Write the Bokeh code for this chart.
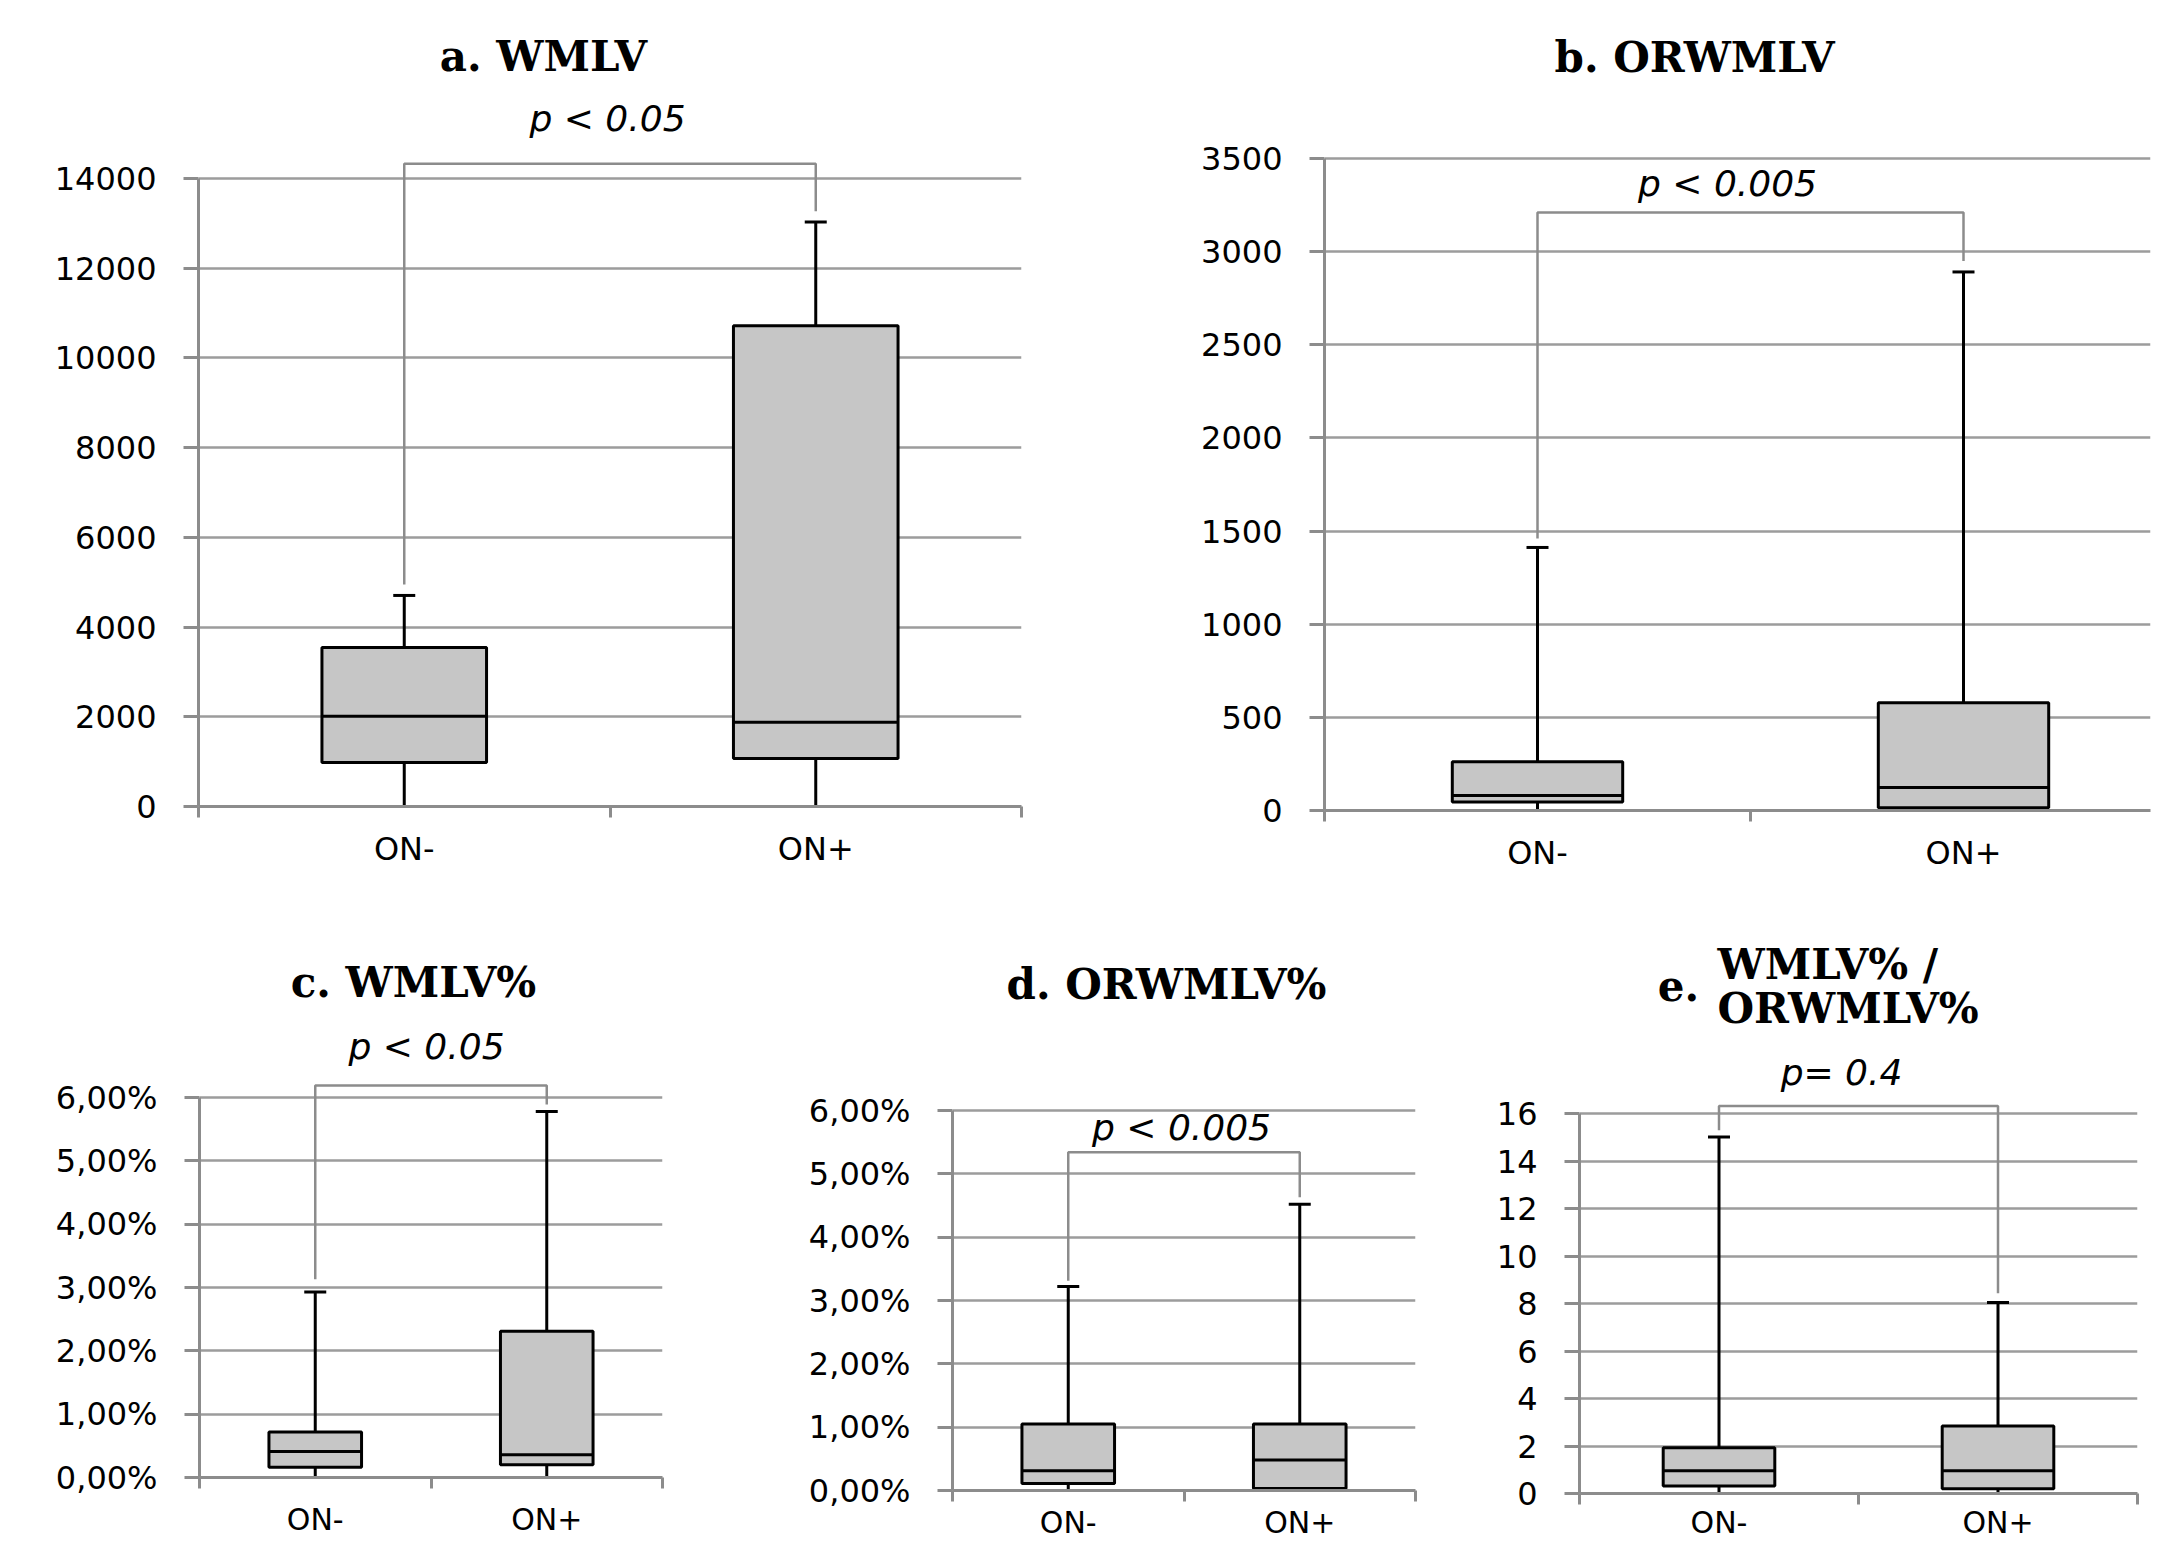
import numpy as np
from bokeh.plotting import figure
from bokeh.layouts import column, row
from bokeh.models import FixedTicker, Range1d
from bokeh.core.properties import value
from bokeh.embed import file_html
from bokeh.resources import INLINE

# ---------------- data ----------------
CATEGORIES = ["ON-", "ON+"]

# a. WMLV
A_TITLE = "a. WMLV"
A_LOW = [0, 0]
A_Q1 = [980, 1070]
A_MEDIAN = [2010, 1880]
A_Q3 = [3545, 10720]
A_HIGH = [4705, 13030]
A_TICKS = [0, 2000, 4000, 6000, 8000, 10000, 12000, 14000]
A_TICK_LABELS = ["0", "2000", "4000", "6000", "8000", "10000", "12000", "14000"]
A_P = "p < 0.05"
A_BRACKET = [4950, 14330, 13270]   # left leg end, bar level, right leg end

# b. ORWMLV
B_TITLE = "b. ORWMLV"
B_LOW = [5, 0]
B_Q1 = [45, 15]
B_MEDIAN = [81, 124]
B_Q3 = [262, 579]
B_HIGH = [1412, 2891]
B_TICKS = [0, 500, 1000, 1500, 2000, 2500, 3000, 3500]
B_TICK_LABELS = ["0", "500", "1000", "1500", "2000", "2500", "3000", "3500"]
B_P = "p < 0.005"
B_BRACKET = [1460, 3210, 2950]

# c. WMLV%
C_TITLE = "c. WMLV%"
C_LOW = [0, 0]
C_Q1 = [0.16, 0.20]
C_MEDIAN = [0.41, 0.36]
C_Q3 = [0.72, 2.31]
C_HIGH = [2.93, 5.78]
C_TICKS = [0, 1, 2, 3, 4, 5, 6]
C_TICK_LABELS = ["0,00%", "1,00%", "2,00%", "3,00%", "4,00%", "5,00%", "6,00%"]
C_P = "p < 0.05"
C_BRACKET = [3.13, 6.19, 5.89]

# d. ORWMLV%
D_TITLE = "d. ORWMLV%"
D_LOW = [0.02, 0]
D_Q1 = [0.11, 0.03]
D_MEDIAN = [0.31, 0.48]
D_Q3 = [1.05, 1.05]
D_HIGH = [3.22, 4.52]
D_TICKS = [0, 1, 2, 3, 4, 5, 6]
D_TICK_LABELS = ["0,00%", "1,00%", "2,00%", "3,00%", "4,00%", "5,00%", "6,00%"]
D_P = "p < 0.005"
D_BRACKET = [3.31, 5.34, 4.63]

# e. WMLV% / ORWMLV%
E_TITLE_LETTER = "e."
E_TITLE_LINES = ["WMLV% /", "ORWMLV%"]
E_LOW = [0.05, 0.05]
E_Q1 = [0.32, 0.20]
E_MEDIAN = [0.96, 0.96]
E_Q3 = [1.93, 2.84]
E_HIGH = [15.01, 8.04]
E_TICKS = [0, 2, 4, 6, 8, 10, 12, 14, 16]
E_TICK_LABELS = ["0", "2", "4", "6", "8", "10", "12", "14", "16"]
E_P = "p= 0.4"
E_BRACKET = [15.3, 16.32, 8.43]

# ---------------- style ----------------
AXIS_GRAY = "#8c8c8c"
GRID_GRAY = "#9c9c9c"
BRACKET_GRAY = "#8c8c8c"
BOX_FILL = "#c6c6c6"
TICK_FONT = "DejaVu Sans"
TITLE_FONT = "DejaVu Serif"
BOX_WIDTH = 0.4


def make_panel(layout, low, q1, med, q3, high, ticks, tick_labels, bracket, p_text, titles,
               xlab_standoff, xlab_size):
    fx0, fy0, fw, fh = layout["fig"]          # page pixels of the figure box
    fl, cat_px, fr = layout["frame_x"]         # frame left, px per category, frame right
    zero_px, top_px = layout["frame_y"]        # page y of value 0 and of top tick
    top_tick = ticks[-1]
    ppu = (zero_px - top_px) / top_tick        # pixels per y unit
    x_end = (fr - fl) / cat_px
    y_end = (zero_px - fy0) / ppu

    def X(sx):
        return (sx - fl) / cat_px

    def Y(sy):
        return (zero_px - sy) / ppu

    p = figure(width=fw, height=fh, x_range=Range1d(0, x_end), y_range=Range1d(0, y_end),
               output_backend="svg", toolbar_location=None, title=None,
               min_border_left=int(round(fl - fx0)), min_border_right=int(round(fx0 + fw - fr)),
               min_border_top=0, min_border_bottom=int(round(fy0 + fh - zero_px)))
    p.outline_line_color = None
    p.background_fill_color = "white"
    p.border_fill_color = "white"

    # y axis
    yt = FixedTicker(ticks=ticks)
    p.yaxis.ticker = yt
    p.ygrid.ticker = yt
    p.yaxis.major_label_overrides = {t: lab for t, lab in zip(ticks, tick_labels)}
    p.yaxis.bounds = (0, top_tick)
    p.yaxis.axis_line_color = AXIS_GRAY
    p.yaxis.axis_line_width = 3
    p.yaxis.major_tick_line_color = AXIS_GRAY
    p.yaxis.major_tick_line_width = 3
    p.yaxis.major_tick_out = 15
    p.yaxis.major_tick_in = 0
    p.yaxis.minor_tick_line_color = None
    p.yaxis.major_label_standoff = 27
    p.yaxis.major_label_text_font = TICK_FONT
    p.yaxis.major_label_text_font_size = "32px"
    p.yaxis.major_label_text_color = "black"
    p.ygrid.grid_line_color = GRID_GRAY
    p.ygrid.grid_line_width = 2.5
    p.xgrid.visible = False

    # x axis
    xs = np.arange(len(CATEGORIES)) + 0.5
    xt = FixedTicker(ticks=list(xs), minor_ticks=list(range(len(CATEGORIES) + 1)))
    p.xaxis.ticker = xt
    p.xaxis.major_label_overrides = {float(x): c for x, c in zip(xs, CATEGORIES)}
    p.xaxis.axis_line_color = AXIS_GRAY
    p.xaxis.axis_line_width = 3
    p.xaxis.major_tick_line_color = None
    p.xaxis.major_tick_out = 0
    p.xaxis.major_tick_in = 0
    p.xaxis.minor_tick_line_color = AXIS_GRAY
    p.xaxis.minor_tick_line_width = 3
    p.xaxis.minor_tick_out = 11
    p.xaxis.minor_tick_in = 0
    p.xaxis.major_label_standoff = xlab_standoff
    p.xaxis.major_label_text_font = TICK_FONT
    p.xaxis.major_label_text_font_size = xlab_size
    p.xaxis.major_label_text_color = "black"

    # significance bracket
    p.line(x=[xs[0], xs[0], xs[1], xs[1]], y=[bracket[0], bracket[1], bracket[1], bracket[2]],
           line_color=BRACKET_GRAY, line_width=2.5)

    # whiskers
    p.segment(x0=xs, y0=q3, x1=xs, y1=high, line_color="black", line_width=3)
    p.segment(x0=xs, y0=low, x1=xs, y1=q1, line_color="black", line_width=3)
    # boxes
    p.vbar(x=xs, width=BOX_WIDTH, bottom=q1, top=q3, fill_color=BOX_FILL,
           line_color="black", line_width=3)
    p.segment(x0=xs - BOX_WIDTH / 2, y0=med, x1=xs + BOX_WIDTH / 2, y1=med,
              line_color="black", line_width=3)
    p.scatter(x=xs, y=high, marker="dash", size=22, line_color="black", line_width=3)

    # p value
    psx, psy = layout["p_pos"]
    p.text(x=[X(psx)], y=[Y(psy)], text=[p_text], text_font=value(TICK_FONT),
           text_font_style="italic", text_font_size="36px", text_align="center",
           text_baseline="middle", text_color="black")

    # title(s)
    for txt, sx, sy, align in titles:
        p.text(x=[X(sx)], y=[Y(sy)], text=[txt], text_font=value(TITLE_FONT),
               text_font_style="bold", text_font_size="42px", text_align=align,
               text_baseline="middle", text_color="black")
    return p


LAYOUT_A = dict(fig=(0, 0, 1092, 898), frame_x=(198, 411.5, 1021), frame_y=(806, 178), p_pos=(607, 118))
LAYOUT_B = dict(fig=(1092, 0, 1090, 898), frame_x=(1324, 426, 2150), frame_y=(810, 158), p_pos=(1727, 183))
LAYOUT_C = dict(fig=(0, 898, 720, 644), frame_x=(199, 231.5, 662), frame_y=(1477, 1097), p_pos=(426, 1046))
LAYOUT_D = dict(fig=(720, 898, 720, 644), frame_x=(952, 231.5, 1415), frame_y=(1490, 1110), p_pos=(1181, 1127))
LAYOUT_E = dict(fig=(1440, 898, 742, 644), frame_x=(1579, 279, 2137), frame_y=(1493, 1113), p_pos=(1841, 1072))

pa = make_panel(LAYOUT_A, A_LOW, A_Q1, A_MEDIAN, A_Q3, A_HIGH, A_TICKS, A_TICK_LABELS, A_BRACKET, A_P,
                [(A_TITLE, 543, 56, "center")], 12, "32px")
pb = make_panel(LAYOUT_B, B_LOW, B_Q1, B_MEDIAN, B_Q3, B_HIGH, B_TICKS, B_TICK_LABELS, B_BRACKET, B_P,
                [(B_TITLE, 1694, 57, "center")], 12, "32px")
pc = make_panel(LAYOUT_C, C_LOW, C_Q1, C_MEDIAN, C_Q3, C_HIGH, C_TICKS, C_TICK_LABELS, C_BRACKET, C_P,
                [(C_TITLE, 413, 982, "center")], 13, "30px")
pd = make_panel(LAYOUT_D, D_LOW, D_Q1, D_MEDIAN, D_Q3, D_HIGH, D_TICKS, D_TICK_LABELS, D_BRACKET, D_P,
                [(D_TITLE, 1166, 984, "center")], 3, "30px")
pe = make_panel(LAYOUT_E, E_LOW, E_Q1, E_MEDIAN, E_Q3, E_HIGH, E_TICKS, E_TICK_LABELS, E_BRACKET, E_P,
                [(E_TITLE_LETTER, 1678, 985, "center"),
                 (E_TITLE_LINES[0], 1717, 964, "left"),
                 (E_TITLE_LINES[1], 1717, 1008, "left")], 0, "30px")

# each plot in its own column so that the rows do not force their frames to line up
layout = column(row(column(pa), column(pb)), row(column(pc), column(pd), column(pe)))

with open("out.html", "w") as f:
    f.write(file_html(layout, INLINE))
